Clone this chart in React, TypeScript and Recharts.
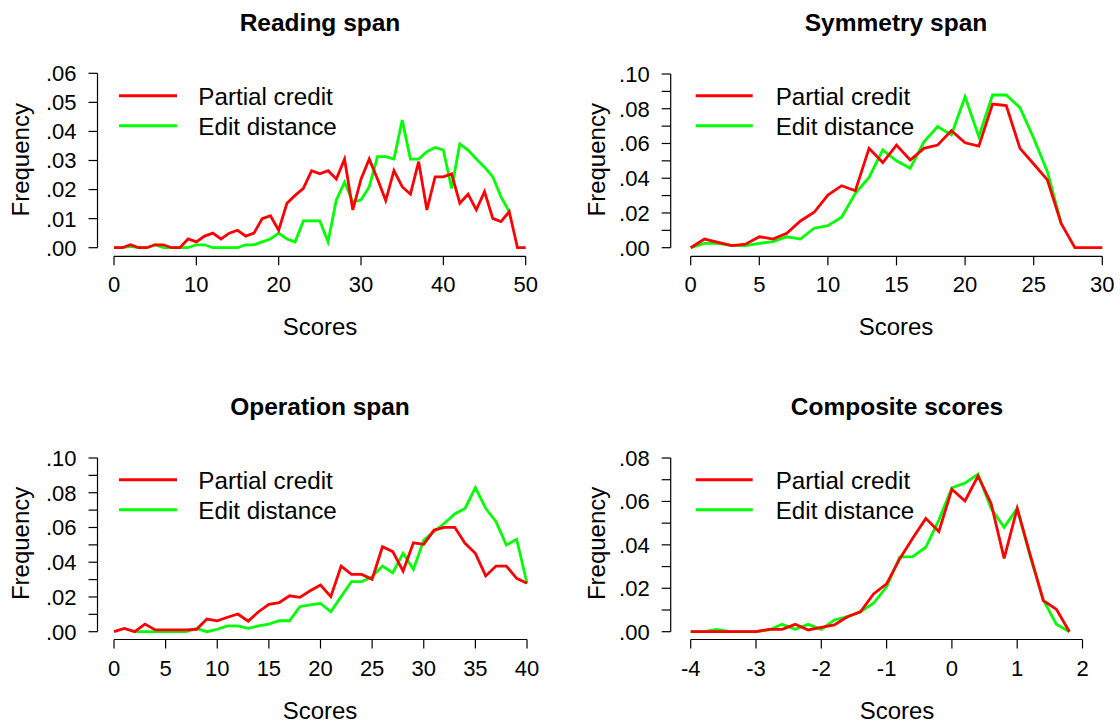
import { LineChart, Line, XAxis, YAxis, ReferenceLine } from "recharts";

// Four frequency polygons: partial-credit vs edit-distance scoring, R base-graphics look.

const FONT = "'Liberation Sans', Arial, Helvetica, sans-serif";
const RED = "#ff0000";
const GREEN = "#00ff00";
const INK = "#000000";

// ---- data ----
const readingScores = [
  0, 1, 2, 3, 4, 5, 6, 7, 8, 9, 10, 11, 12, 13, 14, 15, 16, 17, 18, 19, 20, 21, 22, 23, 24, 25,
  26, 27, 28, 29, 30, 31, 32, 33, 34, 35, 36, 37, 38, 39, 40, 41, 42, 43, 44, 45, 46, 47, 48, 49, 50,
];
const readingPartial = [
  0, 0, 0.001, 0, 0, 0.001, 0.001, 0, 0, 0.003, 0.002, 0.004, 0.005, 0.003, 0.005, 0.006, 0.004,
  0.005, 0.01, 0.011, 0.006, 0.0153, 0.018, 0.0204, 0.0265, 0.0254, 0.0265, 0.0236, 0.0305, 0.013,
  0.0236, 0.0305, 0.0236, 0.0162, 0.0265, 0.021, 0.0184, 0.0296, 0.013, 0.0244, 0.0244, 0.0254,
  0.0153, 0.0184, 0.013, 0.0193, 0.0101, 0.009, 0.0124, 0, 0,
];
const readingEdit = [
  0, 0, 0.0005, 0, 0, 0.001, 0, 0, 0, 0, 0.001, 0.001, 0, 0, 0, 0, 0.001, 0.001, 0.002, 0.003,
  0.005, 0.003, 0.002, 0.0092, 0.0092, 0.0092, 0.002, 0.0164, 0.0225, 0.0158, 0.0164, 0.021, 0.0313,
  0.0313, 0.0305, 0.0439, 0.0305, 0.0305, 0.033, 0.0345, 0.0336, 0.0204, 0.0357, 0.0336, 0.0305,
  0.0277, 0.0244, 0.0175, 0.0124, null, null,
];

const symmetryScores = [
  0, 1, 2, 3, 4, 5, 6, 7, 8, 9, 10, 11, 12, 13, 14, 15, 16, 17, 18, 19, 20, 21, 22, 23, 24, 25, 26,
  27, 28, 29, 30,
];
const symmetryPartial = [
  0, 0.005, 0.0031, 0.0012, 0.002, 0.0063, 0.005, 0.0083, 0.0154, 0.0204, 0.0303, 0.0357, 0.0328,
  0.0572, 0.049, 0.0591, 0.0505, 0.0572, 0.0591, 0.0674, 0.0604, 0.0585, 0.0827, 0.0818, 0.0572,
  0.0482, 0.039, 0.014, 0, 0, 0,
];
const symmetryEdit = [
  0, 0.0025, 0.0025, 0.0012, 0.0012, 0.0025, 0.0035, 0.0063, 0.005, 0.0112, 0.0127, 0.0175, 0.0313,
  0.0405, 0.0563, 0.05, 0.0457, 0.061, 0.0697, 0.0649, 0.0869, 0.0639, 0.0879, 0.0879, 0.0806,
  0.063, 0.0438, 0.014, null, null, null,
];

const operationScores = [
  0, 1, 2, 3, 4, 5, 6, 7, 8, 9, 10, 11, 12, 13, 14, 15, 16, 17, 18, 19, 20, 21, 22, 23, 24, 25, 26,
  27, 28, 29, 30, 31, 32, 33, 34, 35, 36, 37, 38, 39, 40,
];
const operationPartial = [
  0, 0.0019, 0, 0.0044, 0.001, 0.001, 0.001, 0.001, 0.0014, 0.0073, 0.0063, 0.0083, 0.0102, 0.0061,
  0.0115, 0.0158, 0.0167, 0.0207, 0.0198, 0.0236, 0.0269, 0.0202, 0.0378, 0.033, 0.033, 0.0302,
  0.0489, 0.0461, 0.0349, 0.0512, 0.0503, 0.0585, 0.0601, 0.0601, 0.0509, 0.0451, 0.0321, 0.0378,
  0.0378, 0.0307, 0.0279,
];
const operationEdit = [
  null, null, 0, 0, 0, 0, 0, 0, 0.0019, 0, 0.0014, 0.0033, 0.0033, 0.0019, 0.0033, 0.0044, 0.0063,
  0.0063, 0.0144, 0.0154, 0.0163, 0.0115, 0.0202, 0.0288, 0.0288, 0.0317, 0.0378, 0.034, 0.0451,
  0.0359, 0.0528, 0.0576, 0.0624, 0.0678, 0.071, 0.0829, 0.071, 0.0633, 0.0499, 0.0532, 0.0279,
];

const compositeScores = [
  -4, -3.8, -3.6, -3.4, -3.2, -3, -2.8, -2.6, -2.4, -2.2, -2, -1.8, -1.6, -1.4, -1.2, -1, -0.8, -0.6,
  -0.4, -0.2, 0, 0.2, 0.4, 0.6, 0.8, 1, 1.2, 1.4, 1.6, 1.8,
];
const compositePartial = [
  0, 0, 0, 0, 0, 0, 0.0011, 0.0011, 0.0034, 0.0008, 0.002, 0.0031, 0.0069, 0.0092, 0.0174, 0.022,
  0.0335, 0.043, 0.0522, 0.0461, 0.0656, 0.0602, 0.0717, 0.0591, 0.0338, 0.0568, 0.0353, 0.0143,
  0.0103, 0,
];
const compositeEdit = [
  0, 0, 0.0011, 0, 0, 0, 0.0008, 0.0034, 0.0011, 0.0034, 0.0011, 0.0054, 0.0069, 0.0092, 0.0131,
  0.0207, 0.0343, 0.0346, 0.0389, 0.0514, 0.0663, 0.0684, 0.0726, 0.0568, 0.0481, 0.0568, 0.0346,
  0.0146, 0.0034, 0,
];

// ---- tick labels ----
const readingXTicks = [0, 10, 20, 30, 40, 50];
const symmetryXTicks = [0, 5, 10, 15, 20, 25, 30];
const operationXTicks = [0, 5, 10, 15, 20, 25, 30, 35, 40];
const compositeXTicks = [-4, -3, -2, -1, 0, 1, 2];
const yTicks06 = [0, 0.01, 0.02, 0.03, 0.04, 0.05, 0.06];
const yTicks08 = [0, 0.01, 0.02, 0.03, 0.04, 0.05, 0.06, 0.07, 0.08];
const yTicks10 = [0, 0.01, 0.02, 0.03, 0.04, 0.05, 0.06, 0.07, 0.08, 0.09, 0.1];
const yLabels06 = yTicks06;
const yLabels08 = [0, 0.02, 0.04, 0.06, 0.08];
const yLabels10 = [0, 0.02, 0.04, 0.06, 0.08, 0.1];

const LEGEND_NAMES = ["Partial credit", "Edit distance"];

type Anchor = [number, number, number, number]; // value0, px0, value1, px1

interface PanelSpec {
  title: string;
  xs: number[];
  partial: (number | null)[];
  edit: (number | null)[];
  xTicks: number[];
  yTicks: number[];
  yLabels: number[];
  col: number; // page x of the panel box
  row: number; // page y of the panel box
  plot: { left: number; right: number; top: number; bottom: number };
  xAnchor: Anchor;
  yAnchor: Anchor;
  titleX: number;
  ylabX: number;
  legend: { x1: number; x2: number; textX: number };
}

const PANELS: PanelSpec[] = [
  {
    title: "Reading span",
    xs: readingScores,
    partial: readingPartial,
    edit: readingEdit,
    xTicks: readingXTicks,
    yTicks: yTicks06,
    yLabels: yLabels06,
    col: 0,
    row: 0,
    plot: { left: 97.5, right: 542, top: 63.3, bottom: 256.3 },
    xAnchor: [0, 114, 50, 525.7],
    yAnchor: [0, 247.7, 0.06, 73.3],
    titleX: 320,
    ylabX: 28.7,
    legend: { x1: 119, x2: 177, textX: 198.3 },
  },
  {
    title: "Symmetry span",
    xs: symmetryScores,
    partial: symmetryPartial,
    edit: symmetryEdit,
    xTicks: symmetryXTicks,
    yTicks: yTicks10,
    yLabels: yLabels10,
    col: 560,
    row: 0,
    plot: { left: 670.7, right: 1118, top: 63.3, bottom: 256.3 },
    xAnchor: [0, 690.7, 30, 1102.3],
    yAnchor: [0, 247.7, 0.1, 74],
    titleX: 896,
    ylabX: 605.3,
    legend: { x1: 695.7, x2: 752.7, textX: 775.7 },
  },
  {
    title: "Operation span",
    xs: operationScores,
    partial: operationPartial,
    edit: operationEdit,
    xTicks: operationXTicks,
    yTicks: yTicks10,
    yLabels: yLabels10,
    col: 0,
    row: 384,
    plot: { left: 97.5, right: 543.7, top: 447.3, bottom: 639.5 },
    xAnchor: [0, 114, 40, 527],
    yAnchor: [0, 631.7, 0.1, 458],
    titleX: 320,
    ylabX: 28.7,
    legend: { x1: 119, x2: 177, textX: 198.3 },
  },
  {
    title: "Composite scores",
    xs: compositeScores,
    partial: compositePartial,
    edit: compositeEdit,
    xTicks: compositeXTicks,
    yTicks: yTicks08,
    yLabels: yLabels08,
    col: 560,
    row: 384,
    plot: { left: 670.7, right: 1098, top: 447.3, bottom: 639.5 },
    xAnchor: [-4, 690.7, 2, 1082.5],
    yAnchor: [0, 631.7, 0.08, 458],
    titleX: 897,
    ylabX: 605.3,
    legend: { x1: 695.7, x2: 752.7, textX: 775.7 },
  },
];

const PANEL_W = 560;
const PANEL_H = 384;
const Y_AXIS_W = 60;
const X_AXIS_H = 40;
const TICK = 9;

// value at a given pixel, from two anchor points
function valueAt(px: number, a: Anchor): number {
  const [v0, p0, v1, p1] = a;
  return v0 + ((px - p0) * (v1 - v0)) / (p1 - p0);
}

function fmtFreq(v: number): string {
  return v.toFixed(2).replace(/^0/, "");
}

function makeYTick(labels: number[]) {
  return (props: any) => {
    const { x, y, payload } = props;
    const v = payload.value as number;
    if (!labels.some((l) => Math.abs(l - v) < 1e-9)) return <g />;
    return (
      <text x={x} y={y} dy="0.36em" textAnchor="end" fill={INK} fontSize={22} fontFamily={FONT}>
        {fmtFreq(v)}
      </text>
    );
  };
}

function Panel({ spec }: { spec: PanelSpec }) {
  const { plot } = spec;
  const data = spec.xs.map((x, i) => ({ x, partial: spec.partial[i], edit: spec.edit[i] }));
  const xDomain = [valueAt(plot.left, spec.xAnchor), valueAt(plot.right, spec.xAnchor)];
  const yDomain = [valueAt(plot.bottom, spec.yAnchor), valueAt(plot.top, spec.yAnchor)];
  const margin = {
    left: plot.left - spec.col - Y_AXIS_W,
    right: spec.col + PANEL_W - plot.right,
    top: plot.top - spec.row,
    bottom: spec.row + PANEL_H - plot.bottom - X_AXIS_H,
  };
  const xFirst = spec.xTicks[0];
  const xLast = spec.xTicks[spec.xTicks.length - 1];
  const yFirst = spec.yTicks[0];
  const yLast = spec.yTicks[spec.yTicks.length - 1];

  return (
    <div style={{ position: "absolute", left: spec.col, top: spec.row }}>
      <LineChart width={PANEL_W} height={PANEL_H} data={data} margin={margin}>
        <XAxis
          dataKey="x"
          type="number"
          domain={xDomain}
          allowDataOverflow
          ticks={spec.xTicks}
          interval={0}
          height={X_AXIS_H}
          axisLine={false}
          tickLine={{ stroke: INK, strokeWidth: 1.2 }}
          tickSize={TICK}
          tickMargin={11.5}
          tick={{ fill: INK, fontSize: 22, fontFamily: FONT }}
        />
        <YAxis
          type="number"
          domain={yDomain}
          allowDataOverflow
          ticks={spec.yTicks}
          interval={0}
          width={Y_AXIS_W}
          axisLine={false}
          tickLine={{ stroke: INK, strokeWidth: 1.2 }}
          tickSize={TICK}
          tickMargin={12}
          tick={makeYTick(spec.yLabels)}
        />
        <ReferenceLine
          segment={[
            { x: xFirst, y: yDomain[0] },
            { x: xLast, y: yDomain[0] },
          ]}
          stroke={INK}
          strokeWidth={1.2}
          ifOverflow="visible"
        />
        <ReferenceLine
          segment={[
            { x: xDomain[0], y: yFirst },
            { x: xDomain[0], y: yLast },
          ]}
          stroke={INK}
          strokeWidth={1.2}
          ifOverflow="visible"
        />
        <Line
          dataKey="edit"
          type="linear"
          stroke={GREEN}
          strokeWidth={2.8}
          dot={false}
          activeDot={false}
          isAnimationActive={false}
        />
        <Line
          dataKey="partial"
          type="linear"
          stroke={RED}
          strokeWidth={2.8}
          dot={false}
          activeDot={false}
          isAnimationActive={false}
        />
      </LineChart>
    </div>
  );
}

function Annotations({ spec }: { spec: PanelSpec }) {
  const r = spec.row;
  const ylabY = (spec.plot.top + spec.plot.bottom) / 2;
  return (
    <g fontFamily={FONT} fill={INK}>
      <text x={spec.titleX} y={r + 30.8} textAnchor="middle" fontSize={24.5} fontWeight="bold">
        {spec.title}
      </text>
      <text x={spec.titleX} y={r + 335.3} textAnchor="middle" fontSize={24}>
        Scores
      </text>
      <text
        transform={`translate(${spec.ylabX},${ylabY}) rotate(-90)`}
        textAnchor="middle"
        fontSize={24}
      >
        Frequency
      </text>
      <line x1={spec.legend.x1} x2={spec.legend.x2} y1={r + 95.7} y2={r + 95.7} stroke={RED} strokeWidth={3} />
      <line x1={spec.legend.x1} x2={spec.legend.x2} y1={r + 125.7} y2={r + 125.7} stroke={GREEN} strokeWidth={3} />
      <text x={spec.legend.textX} y={r + 105} fontSize={24.2}>
        {LEGEND_NAMES[0]}
      </text>
      <text x={spec.legend.textX} y={r + 134.5} fontSize={24.2}>
        {LEGEND_NAMES[1]}
      </text>
    </g>
  );
}

export default function App() {
  return (
    <div
      style={{
        position: "fixed",
        left: 0,
        top: 0,
        width: 1120,
        height: 725,
        background: "#ffffff",
        overflow: "hidden",
      }}
    >
      {PANELS.map((p) => (
        <Panel key={p.title} spec={p} />
      ))}
      <svg
        width={1120}
        height={725}
        style={{ position: "absolute", left: 0, top: 0, pointerEvents: "none" }}
      >
        {PANELS.map((p) => (
          <Annotations key={p.title} spec={p} />
        ))}
      </svg>
    </div>
  );
}
